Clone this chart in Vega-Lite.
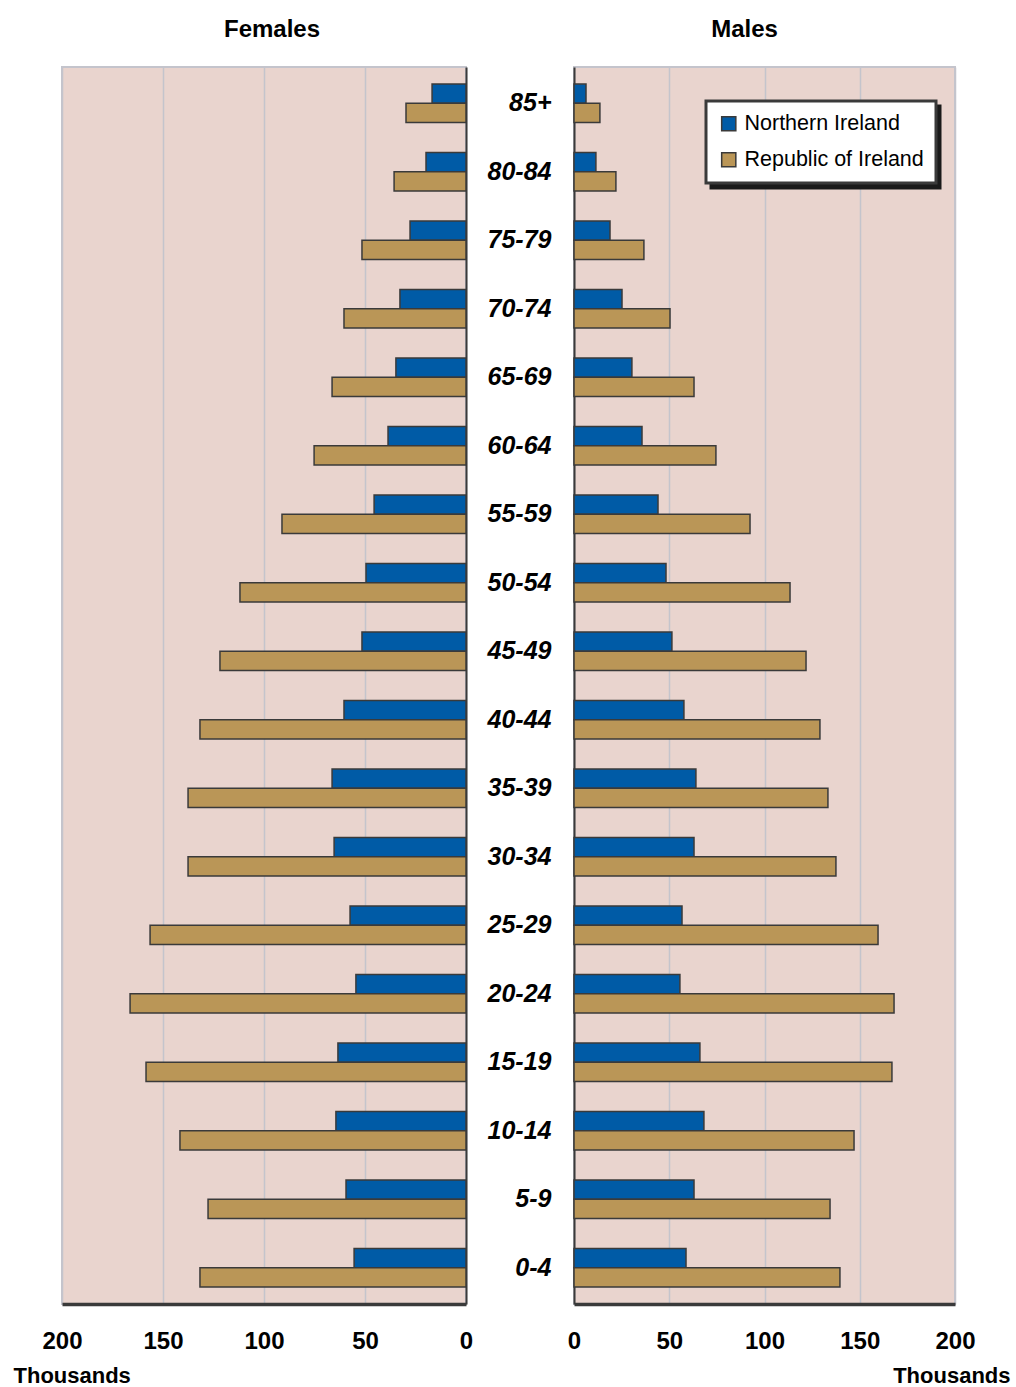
{
  "$schema": "https://vega.github.io/schema/vega-lite/v6.json",
  "padding": {"left": 12, "top": 17, "right": 6, "bottom": 0},
  "background": "white",
  "config": {
    "font": "Liberation Sans",
    "view": {"fill": "#E9D4CE", "stroke": "#C4C4CC", "strokeWidth": 2},
    "title": {"fontSize": 24, "fontWeight": "bold", "color": "#000", "offset": 25}
  },
  "data": {"values": [
    {"age": "85+", "sex": "F", "series": "Northern Ireland", "value": 16.8},
    {"age": "85+", "sex": "F", "series": "Republic of Ireland", "value": 29.7},
    {"age": "80-84", "sex": "F", "series": "Northern Ireland", "value": 19.8},
    {"age": "80-84", "sex": "F", "series": "Republic of Ireland", "value": 35.6},
    {"age": "75-79", "sex": "F", "series": "Northern Ireland", "value": 27.7},
    {"age": "75-79", "sex": "F", "series": "Republic of Ireland", "value": 51.5},
    {"age": "70-74", "sex": "F", "series": "Northern Ireland", "value": 32.7},
    {"age": "70-74", "sex": "F", "series": "Republic of Ireland", "value": 60.4},
    {"age": "65-69", "sex": "F", "series": "Northern Ireland", "value": 34.7},
    {"age": "65-69", "sex": "F", "series": "Republic of Ireland", "value": 66.3},
    {"age": "60-64", "sex": "F", "series": "Northern Ireland", "value": 38.6},
    {"age": "60-64", "sex": "F", "series": "Republic of Ireland", "value": 75.2},
    {"age": "55-59", "sex": "F", "series": "Northern Ireland", "value": 45.5},
    {"age": "55-59", "sex": "F", "series": "Republic of Ireland", "value": 91.1},
    {"age": "50-54", "sex": "F", "series": "Northern Ireland", "value": 49.5},
    {"age": "50-54", "sex": "F", "series": "Republic of Ireland", "value": 111.9},
    {"age": "45-49", "sex": "F", "series": "Northern Ireland", "value": 51.5},
    {"age": "45-49", "sex": "F", "series": "Republic of Ireland", "value": 121.8},
    {"age": "40-44", "sex": "F", "series": "Northern Ireland", "value": 60.4},
    {"age": "40-44", "sex": "F", "series": "Republic of Ireland", "value": 131.7},
    {"age": "35-39", "sex": "F", "series": "Northern Ireland", "value": 66.3},
    {"age": "35-39", "sex": "F", "series": "Republic of Ireland", "value": 137.6},
    {"age": "30-34", "sex": "F", "series": "Northern Ireland", "value": 65.3},
    {"age": "30-34", "sex": "F", "series": "Republic of Ireland", "value": 137.6},
    {"age": "25-29", "sex": "F", "series": "Northern Ireland", "value": 57.4},
    {"age": "25-29", "sex": "F", "series": "Republic of Ireland", "value": 156.4},
    {"age": "20-24", "sex": "F", "series": "Northern Ireland", "value": 54.5},
    {"age": "20-24", "sex": "F", "series": "Republic of Ireland", "value": 166.3},
    {"age": "15-19", "sex": "F", "series": "Northern Ireland", "value": 63.4},
    {"age": "15-19", "sex": "F", "series": "Republic of Ireland", "value": 158.4},
    {"age": "10-14", "sex": "F", "series": "Northern Ireland", "value": 64.4},
    {"age": "10-14", "sex": "F", "series": "Republic of Ireland", "value": 141.6},
    {"age": "5-9", "sex": "F", "series": "Northern Ireland", "value": 59.4},
    {"age": "5-9", "sex": "F", "series": "Republic of Ireland", "value": 127.7},
    {"age": "0-4", "sex": "F", "series": "Northern Ireland", "value": 55.4},
    {"age": "0-4", "sex": "F", "series": "Republic of Ireland", "value": 131.7},
    {"age": "85+", "sex": "M", "series": "Northern Ireland", "value": 6.3},
    {"age": "85+", "sex": "M", "series": "Republic of Ireland", "value": 13.6},
    {"age": "80-84", "sex": "M", "series": "Northern Ireland", "value": 11.5},
    {"age": "80-84", "sex": "M", "series": "Republic of Ireland", "value": 22.0},
    {"age": "75-79", "sex": "M", "series": "Northern Ireland", "value": 18.9},
    {"age": "75-79", "sex": "M", "series": "Republic of Ireland", "value": 36.7},
    {"age": "70-74", "sex": "M", "series": "Northern Ireland", "value": 25.2},
    {"age": "70-74", "sex": "M", "series": "Republic of Ireland", "value": 50.4},
    {"age": "65-69", "sex": "M", "series": "Northern Ireland", "value": 30.4},
    {"age": "65-69", "sex": "M", "series": "Republic of Ireland", "value": 63.0},
    {"age": "60-64", "sex": "M", "series": "Northern Ireland", "value": 35.7},
    {"age": "60-64", "sex": "M", "series": "Republic of Ireland", "value": 74.5},
    {"age": "55-59", "sex": "M", "series": "Northern Ireland", "value": 44.1},
    {"age": "55-59", "sex": "M", "series": "Republic of Ireland", "value": 92.4},
    {"age": "50-54", "sex": "M", "series": "Northern Ireland", "value": 48.3},
    {"age": "50-54", "sex": "M", "series": "Republic of Ireland", "value": 113.4},
    {"age": "45-49", "sex": "M", "series": "Northern Ireland", "value": 51.4},
    {"age": "45-49", "sex": "M", "series": "Republic of Ireland", "value": 121.8},
    {"age": "40-44", "sex": "M", "series": "Northern Ireland", "value": 57.7},
    {"age": "40-44", "sex": "M", "series": "Republic of Ireland", "value": 129.1},
    {"age": "35-39", "sex": "M", "series": "Northern Ireland", "value": 64.0},
    {"age": "35-39", "sex": "M", "series": "Republic of Ireland", "value": 133.3},
    {"age": "30-34", "sex": "M", "series": "Northern Ireland", "value": 63.0},
    {"age": "30-34", "sex": "M", "series": "Republic of Ireland", "value": 137.5},
    {"age": "25-29", "sex": "M", "series": "Northern Ireland", "value": 56.7},
    {"age": "25-29", "sex": "M", "series": "Republic of Ireland", "value": 159.6},
    {"age": "20-24", "sex": "M", "series": "Northern Ireland", "value": 55.6},
    {"age": "20-24", "sex": "M", "series": "Republic of Ireland", "value": 168.0},
    {"age": "15-19", "sex": "M", "series": "Northern Ireland", "value": 66.1},
    {"age": "15-19", "sex": "M", "series": "Republic of Ireland", "value": 166.9},
    {"age": "10-14", "sex": "M", "series": "Northern Ireland", "value": 68.2},
    {"age": "10-14", "sex": "M", "series": "Republic of Ireland", "value": 147.0},
    {"age": "5-9", "sex": "M", "series": "Northern Ireland", "value": 63.0},
    {"age": "5-9", "sex": "M", "series": "Republic of Ireland", "value": 134.4},
    {"age": "0-4", "sex": "M", "series": "Northern Ireland", "value": 58.8},
    {"age": "0-4", "sex": "M", "series": "Republic of Ireland", "value": 139.6}
  ]},
  "spacing": 0,
  "resolve": {"legend": {"color": "independent", "opacity": "independent"}},
  "hconcat": [
    {
      "title": {"text": "Females", "dx": 8},
      "width": 404,
      "height": 1237,
      "transform": [{"filter": "datum.sex === 'F'"}],
      "mark": {"type": "bar", "stroke": "#3A3A3A", "strokeWidth": 1.5},
      "encoding": {
        "y": {
          "field": "age", "type": "nominal",
          "sort": ["85+","80-84","75-79","70-74","65-69","60-64","55-59","50-54","45-49","40-44","35-39","30-34","25-29","20-24","15-19","10-14","5-9","0-4"],
          "scale": {"paddingInner": 0.44, "paddingOuter": 0.25},
          "axis": {"orient": "right", "labels": false, "ticks": false, "title": null, "domainColor": "#3A3A3A", "domainWidth": 2}
        },
        "yOffset": {"field": "series", "type": "nominal", "sort": ["Northern Ireland", "Republic of Ireland"]},
        "x": {
          "field": "value", "type": "quantitative",
          "scale": {"domain": [0, 200], "reverse": true, "nice": false},
          "axis": {
            "values": [0, 50, 100, 150, 200], "ticks": false, "labelPadding": 25,
            "labelFontSize": 24, "labelFontWeight": "bold", "labelColor": "#000",
            "domainColor": "#3A3A3A", "domainWidth": 3.5,
            "grid": true, "gridColor": "#C4C4CC", "gridWidth": 1.5,
            "title": "Thousands", "titleFontSize": 22, "titleFontWeight": "bold", "titleColor": "#000",
            "titleAlign": "left", "titleX": -49, "titleY": 71, "titleBaseline": "middle",
            "labelFlush": false
          }
        },
        "color": {
          "field": "series", "type": "nominal",
          "scale": {"domain": ["Northern Ireland", "Republic of Ireland"], "range": ["#005BA6", "#BA9657"]},
          "legend": null
        }
      }
    },
    {
      "title": {"text": "Males", "dx": -20},
      "width": 381,
      "height": 1237,
      "transform": [{"filter": "datum.sex === 'M'"}],
      "mark": {"type": "bar", "stroke": "#3A3A3A", "strokeWidth": 1.5},
      "encoding": {
        "y": {
          "field": "age", "type": "nominal",
          "sort": ["85+","80-84","75-79","70-74","65-69","60-64","55-59","50-54","45-49","40-44","35-39","30-34","25-29","20-24","15-19","10-14","5-9","0-4"],
          "scale": {"paddingInner": 0.44, "paddingOuter": 0.25},
          "axis": {"orient": "left", "ticks": false, "title": null, "labelPadding": 23,
            "labelFontSize": 25, "labelFontWeight": "bold", "labelFontStyle": "italic", "labelColor": "#000",
            "domainColor": "#3A3A3A", "domainWidth": 2, "minExtent": 99, "maxExtent": 99}
        },
        "yOffset": {"field": "series", "type": "nominal", "sort": ["Northern Ireland", "Republic of Ireland"]},
        "x": {
          "field": "value", "type": "quantitative",
          "scale": {"domain": [0, 200], "nice": false},
          "axis": {
            "values": [0, 50, 100, 150, 200], "ticks": false, "labelPadding": 25,
            "labelFontSize": 24, "labelFontWeight": "bold", "labelColor": "#000",
            "domainColor": "#3A3A3A", "domainWidth": 3.5,
            "grid": true, "gridColor": "#C4C4CC", "gridWidth": 1.5,
            "title": "Thousands", "titleFontSize": 22, "titleFontWeight": "bold", "titleColor": "#000",
            "titleAlign": "right", "titleX": 436, "titleY": 71, "titleBaseline": "middle",
            "labelFlush": false
          }
        },
        "color": {
          "field": "series", "type": "nominal",
          "scale": {"domain": ["Northern Ireland", "Republic of Ireland"], "range": ["#005BA6", "#BA9657"]},
          "legend": {
            "orient": "none", "legendX": 132, "legendY": 34, "title": null, "zindex": 2,
            "fillColor": "white", "strokeColor": "#3A3A3A", "padding": 12,
            "symbolType": "square", "symbolSize": 200, "symbolStrokeColor": "#3A3A3A", "symbolStrokeWidth": 1.5,
            "symbolOpacity": 1, "labelFontSize": 21.5, "labelColor": "#000", "rowPadding": 13, "labelOffset": 5, "labelLimit": 300,
            "encode": {"legend": {"update": {"strokeWidth": {"value": 3}}}}
          }
        },
        "opacity": {
          "field": "series", "type": "nominal",
          "scale": {"range": [1, 1]},
          "legend": {
            "orient": "none", "legendX": 137, "legendY": 39, "title": null, "zindex": 1,
            "fillColor": "#1A1A1A", "strokeColor": "#1A1A1A", "padding": 12,
            "symbolType": "square", "symbolSize": 200, "symbolFillColor": "#1A1A1A", "symbolStrokeColor": "#1A1A1A", "symbolStrokeWidth": 1.5,
            "symbolOffset": 178, "labelExpr": "''",
            "labelFontSize": 21.5, "labelColor": "#1A1A1A", "rowPadding": 13, "labelOffset": 5, "labelLimit": 300,
            "encode": {"legend": {"update": {"strokeWidth": {"value": 3}}}}
          }
        }
      }
    }
  ]
}
